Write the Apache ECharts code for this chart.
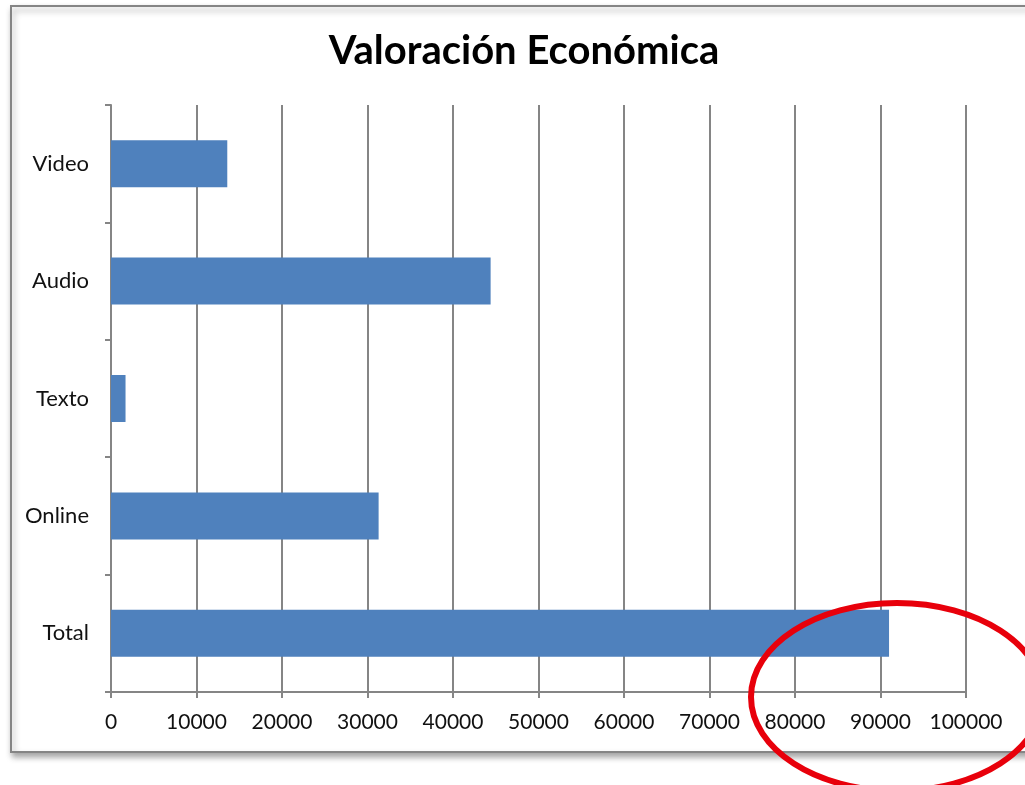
<!DOCTYPE html>
<html>
<head>
<meta charset="utf-8">
<script src="https://cdn.jsdelivr.net/npm/echarts@6/dist/echarts.min.js"></script>
<style>
  html, body { margin: 0; padding: 0; background: #fff; }
  #myChart { width: 1025px; height: 785px; }
</style>
</head>
<body>
<div id="myChart"></div>
<script>
// datos (orden de Excel: el primero abajo)
const categories = ["Total", "Online", "Texto", "Audio", "Video"];
const values = [91000, 31300, 1700, 44400, 13600];
const xTicks = [0, 10000, 20000, 30000, 40000, 50000, 60000, 70000, 80000, 90000, 100000];

const myChart = echarts.init(document.getElementById("myChart"));
const gray = "#858585";

const option = {
  backgroundColor: "#fff",
  animation: false,
  title: {
    text: "Valoración Económica",
    left: 519,
    textAlign: "center",
    top: 26,
    textStyle: {
      fontFamily: "Lato",
      fontWeight: "bold",
      fontSize: 40,
      color: "#000",
    },
  },
  grid: {
    left: 111,
    right: 59,
    top: 105,
    bottom: 93,
  },
  xAxis: {
    type: "value",
    min: xTicks[0],
    max: xTicks[xTicks.length - 1],
    interval: 10000,
    axisLine: { show: true, lineStyle: { color: gray, width: 2 } },
    axisTick: { show: true, length: 6, lineStyle: { color: gray, width: 2 } },
    splitLine: { show: true, lineStyle: { color: gray, width: 2 } },
    axisLabel: {
      margin: 20,
      fontFamily: "Lato",
      fontSize: 21,
      color: "#111",
      formatter: (v) => String(v),
    },
  },
  yAxis: {
    type: "category",
    data: categories,
    axisLine: { show: true, lineStyle: { color: gray, width: 2 } },
    axisTick: { show: true, length: 6, lineStyle: { color: gray, width: 2 } },
    axisLabel: {
      margin: 22,
      fontFamily: "Lato",
      fontSize: 22,
      color: "#111",
    },
  },
  series: [
    {
      type: "bar",
      data: values,
      barCategoryGap: "60%",
      itemStyle: { color: "#4f81bd" },
    },
  ],
  graphic: [
    {
      type: "rect",
      z: -10,
      shape: { x: 11, y: 6, width: 1030, height: 746 },
      style: {
        fill: "#fff",
        stroke: gray,
        lineWidth: 2,
        shadowBlur: 6,
        shadowOffsetX: 2,
        shadowOffsetY: 4,
        shadowColor: "rgba(0,0,0,0.35)",
      },
    },
    {
      type: "ellipse",
      z: 100,
      shape: { cx: 897, cy: 697, rx: 146, ry: 94 },
      style: { fill: "none", stroke: "#e8000b", lineWidth: 6 },
    },
  ],
};

myChart.setOption(option);
</script>
</body>
</html>
